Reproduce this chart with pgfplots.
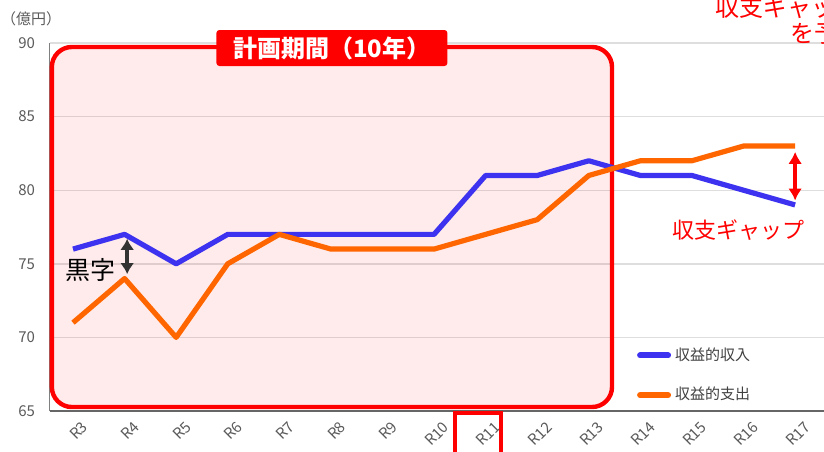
\documentclass[border=0pt]{standalone}
\usepackage{pgfplots}
\pgfplotsset{compat=1.18}
\usepackage{fontspec}
\setmainfont{Noto Sans CJK JP}
\usetikzlibrary{calc,arrows.meta}
\definecolor{cblue}{RGB}{60,50,240}
\definecolor{corange}{RGB}{255,102,0}
\definecolor{tgray}{RGB}{90,90,90}
\begin{document}
\begin{tikzpicture}
\begin{axis}[
  scale only axis, width=387pt, height=184pt,
  xmin=-0.446, xmax=14.56, ymin=65, ymax=90,
  ytick={65,70,75,80,85,90},
  xtick={0,1,2,3,4,5,6,7,8,9,10,11,12,13,14},
  xticklabels={R3,R4,R5,R6,R7,R8,R9,R10,R11,R12,R13,R14,R15,R16,R17},
  axis x line*=bottom, axis y line*=left,
  x axis line style={draw=black!60, line width=1pt},
  y axis line style={draw=black!50, line width=0.5pt},
  ymajorgrids, grid style={black!13, line width=0.7pt},
  major tick length=0pt,
  tick label style={font=\fontsize{7.5}{9}\selectfont, text=tgray},
  yticklabel style={xshift=-4pt},
  xticklabel style={rotate=45, anchor=east, xshift=3pt, yshift=-9pt},
  /pgf/number format/assume math mode=true,
  clip=false,
  legend style={at={(0.758,0.195)}, anchor=north west, draw=none, fill=none,
    font=\fontsize{7.5}{8}\selectfont, text=black!75, row sep=8pt, inner xsep=0pt},
  legend cell align=left,
  legend image code/.code={\draw[#1, line width=3pt, line cap=round] (0pt,0pt) -- (14pt,0pt);},
]
\draw[red, line width=2.2pt, fill=red, fill opacity=0.08, rounded corners=10pt]
  (axis cs:-0.41,89.73) rectangle (axis cs:10.45,65.27);
\addplot[cblue, line width=2.6pt, line join=round] coordinates {
 (0,76) (1,77) (2,75) (3,77) (4,77) (5,77) (6,77) (7,77) (8,81) (9,81) (10,82) (11,81) (12,81) (13,80) (14,79)};
\addlegendentry{収益的収入}
\addplot[corange, line width=2.6pt, line join=round] coordinates {
 (0,71) (1,74) (2,70) (3,75) (4,77) (5,76) (6,76) (7,76) (8,77) (9,78) (10,81) (11,82) (12,82) (13,83) (14,83)};
\addlegendentry{収益的支出}
\node[fill=red, text=white, font=\bfseries\fontsize{12}{14}\selectfont, rounded corners=1.5pt,
  inner sep=1pt, minimum width=115.5pt, minimum height=18pt] at (axis cs:5.02,89.66) {計画期間（10年）};
\draw[{Latex[length=5.5pt,width=7pt]}-{Latex[length=5.5pt,width=7pt]}, line width=1.8pt, black!80]
  (axis cs:1.05,76.7) -- (axis cs:1.05,74.3);
\node[anchor=east, font=\fontsize{12.5}{13}\selectfont, inner sep=0pt] at (axis cs:0.83,74.6) {黒字};
\draw[{Latex[length=6pt,width=7pt]}-{Latex[length=6pt,width=7pt]}, line width=2pt, red]
  (axis cs:14,82.6) -- (axis cs:14,79.3);
\node[text=red, font=\fontsize{11}{12}\selectfont] at (axis cs:12.9,77.3) {収支ギャップ};
\node[text=red, anchor=west, inner sep=0pt, font=\fontsize{12}{13}\selectfont] at (axis cs:12.45,92.4) {収支ギャップの拡大};
\node[text=red, anchor=west, inner sep=0pt, font=\fontsize{12}{13}\selectfont] at (axis cs:13.9,90.68) {を予測};
\node[text=tgray, font=\fontsize{7.5}{9}\selectfont] at (axis cs:-0.81,91.63) {（億円）};
\draw[red, line width=2pt] (axis cs:7.4,62) -- (axis cs:7.4,64.86) -- (axis cs:8.3,64.86) -- (axis cs:8.3,62);
\end{axis}
\pgfresetboundingbox
\path ($(current axis.south west)+(-25pt,-20pt)$) rectangle ($(current axis.north east)+(0pt,21.5pt)$);
\end{tikzpicture}
\end{document}
